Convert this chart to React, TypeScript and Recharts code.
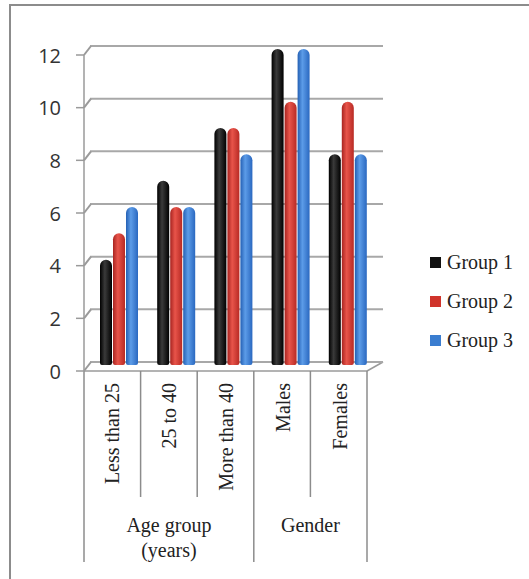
import { BarChart, Bar, XAxis, YAxis, CartesianGrid } from 'recharts'

const categories = ['Less than 25', '25 to 40', 'More than 40', 'Males', 'Females']
const group1 = [4, 7, 9, 12, 8]
const group2 = [5, 6, 9, 10, 10]
const group3 = [6, 6, 8, 12, 8]
const yTicks = [0, 2, 4, 6, 8, 10, 12]
const groupNames = [['Age group', '(years)'], ['Gender']]
const groupSpans = [3, 2]
const seriesNames = ['Group 1', 'Group 2', 'Group 3']

const data = categories.map((name, i) => ({ name, g1: group1[i], g2: group2[i], g3: group3[i] }))

// layout (px)
const W = 529
const H = 579
const PLOT_LEFT = 90
const PLOT_RIGHT = 376
const PLOT_TOP = 49
const PLOT_BOTTOM = 365
const GRID_DY = 3 // back wall sits a little above the bars
const FRONT_X = 84 // front edge of the left wall
const FRONT_DY = 6
const FRONT_RIGHT = 367
const SEP_SHORT = 497
const SEP_LONG = 562
const LINE = '#9a9a9a'

const serif = '"Liberation Serif", "DejaVu Serif", serif'
const sans = '"Open Sans", "Liberation Sans", sans-serif'

const fills = ['url(#gBlack)', 'url(#gRed)', 'url(#gBlue)']
const swatch = ['#111', '#d0342b', '#3a7dd0']

function YTick({ y, payload }: any) {
  const fy = y + FRONT_DY
  return (
    <g>
      <line x1={76} x2={FRONT_X} y1={fy} y2={fy} stroke={LINE} strokeWidth={1.5} />
      <line x1={FRONT_X} y1={fy} x2={PLOT_LEFT + 1} y2={y - GRID_DY} stroke={LINE} strokeWidth={2} />
      <text x={61} y={fy} textAnchor="end" dominantBaseline="central" fontFamily={sans} fontSize={20} fill="#333">
        {payload.value}
      </text>
    </g>
  )
}

function XTick({ x, payload }: any) {
  return (
    <text
      transform={`translate(${x - 7}, 383) rotate(-90)`}
      textAnchor="end"
      dominantBaseline="central"
      fontFamily={serif}
      fontSize={20}
      fill="#222"
    >
      {payload.value}
    </text>
  )
}

function GridLine(props: any) {
  return (
    <line
      key={props.key}
      x1={props.x1}
      x2={props.x2 + 7}
      y1={props.y1 - GRID_DY}
      y2={props.y2 - GRID_DY}
      stroke="#a8a8a8"
      strokeWidth={2}
    />
  )
}

function Frame() {
  const bw = (FRONT_RIGHT - FRONT_X) / categories.length
  const floorY = PLOT_BOTTOM + FRONT_DY
  const seps: any[] = []
  const groupBounds = [0]
  groupSpans.forEach((s) => groupBounds.push(groupBounds[groupBounds.length - 1] + s))
  for (let i = 0; i <= categories.length; i++) {
    const x = FRONT_X + i * bw
    const long = groupBounds.includes(i)
    seps.push(<line key={i} x1={x} x2={x} y1={floorY} y2={long ? SEP_LONG : SEP_SHORT} stroke="#8c8c8c" strokeWidth={1.5} />)
  }
  return (
    <svg width={W} height={H} style={{ position: 'absolute', left: 0, top: 0 }}>
      <line x1={FRONT_X} x2={FRONT_X} y1={PLOT_TOP + FRONT_DY} y2={floorY} stroke={LINE} strokeWidth={1.5} />
      <line x1={FRONT_X} x2={FRONT_RIGHT} y1={floorY} y2={floorY} stroke={LINE} strokeWidth={1.5} />
      <line x1={FRONT_RIGHT} x2={PLOT_RIGHT + 7} y1={floorY} y2={PLOT_BOTTOM - GRID_DY} stroke={LINE} strokeWidth={1.5} />
      {seps}
      {groupNames.map((lines, g) => {
        const cx = FRONT_X + ((groupBounds[g] + groupBounds[g + 1]) / 2) * bw
        return lines.map((t, k) => (
          <text key={`${g}-${k}`} x={cx} y={525 + k * 25} textAnchor="middle" dominantBaseline="central" fontFamily={serif} fontSize={20} fill="#222">
            {t}
          </text>
        ))
      })}
    </svg>
  )
}

export default function App() {
  return (
    <div style={{ position: 'absolute', left: 0, top: 0, width: W, height: H, overflow: 'hidden', background: '#fff' }}>
      <div style={{ position: 'absolute', left: 9, top: 4, width: W, height: H, borderLeft: '2px solid #8c8c8c', borderTop: '2px solid #8c8c8c' }} />
      <Frame />
      <div style={{ position: 'absolute', left: 0, top: 0 }}>
        <BarChart
          width={W}
          height={H}
          data={data}
          margin={{ top: PLOT_TOP, left: PLOT_LEFT - 1, right: W - PLOT_RIGHT, bottom: H - PLOT_BOTTOM - 1 }}
          barSize={12}
          barGap={1}
        >
          <defs>
            <linearGradient id="gBlack" x1="0" y1="0" x2="1" y2="0">
              <stop offset="0%" stopColor="#000" />
              <stop offset="40%" stopColor="#3a3a3a" />
              <stop offset="100%" stopColor="#000" />
            </linearGradient>
            <linearGradient id="gRed" x1="0" y1="0" x2="1" y2="0">
              <stop offset="0%" stopColor="#a82420" />
              <stop offset="40%" stopColor="#e8544a" />
              <stop offset="100%" stopColor="#b82a24" />
            </linearGradient>
            <linearGradient id="gBlue" x1="0" y1="0" x2="1" y2="0">
              <stop offset="0%" stopColor="#2460b4" />
              <stop offset="40%" stopColor="#5c9ce8" />
              <stop offset="100%" stopColor="#2a68c0" />
            </linearGradient>
          </defs>
          <CartesianGrid vertical={false} horizontal={GridLine} />
          <XAxis dataKey="name" height={1} axisLine={false} tickLine={false} interval={0} tick={XTick} />
          <YAxis width={1} domain={[0, 12]} ticks={yTicks} axisLine={false} tickLine={false} tick={YTick} />
          <Bar dataKey="g1" name={seriesNames[0]} fill={fills[0]} radius={[6, 6, 2, 2]} isAnimationActive={false} />
          <Bar dataKey="g2" name={seriesNames[1]} fill={fills[1]} radius={[6, 6, 2, 2]} isAnimationActive={false} />
          <Bar dataKey="g3" name={seriesNames[2]} fill={fills[2]} radius={[6, 6, 2, 2]} isAnimationActive={false} />
        </BarChart>
      </div>
      <div style={{ position: 'absolute', left: 430, top: 243 }}>
        {seriesNames.map((n, i) => (
          <div key={n} style={{ display: 'flex', alignItems: 'center', height: 39, fontFamily: serif, fontSize: 20, color: '#222' }}>
            <span style={{ width: 11, height: 11, background: swatch[i], marginRight: 6, display: 'inline-block' }} />
            {n}
          </div>
        ))}
      </div>
    </div>
  )
}
